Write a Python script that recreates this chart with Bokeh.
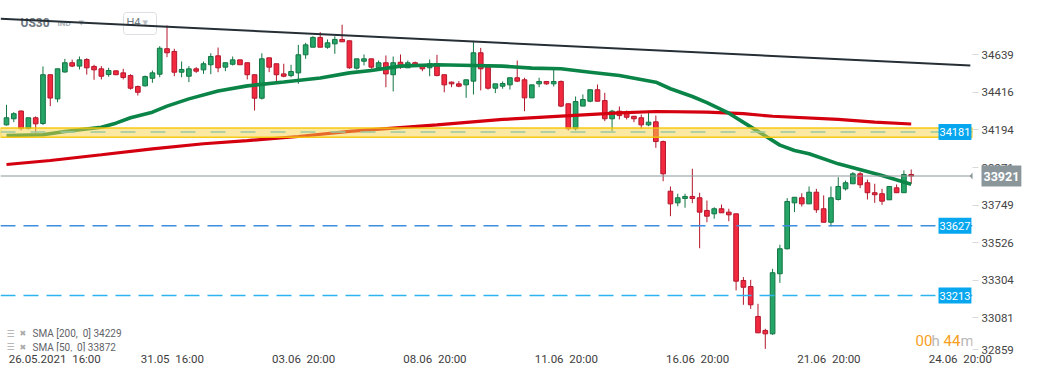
from bokeh.plotting import figure
from bokeh.models import (Range1d, LinearAxis, FixedTicker, Span, BoxAnnotation, Label,
                          PolyAnnotation, ColumnDataSource)
from bokeh.embed import file_html
from bokeh.resources import INLINE

# ---------------- data (US30, H4) ----------------
opens = [34224, 34260, 34306, 34202, 34266, 34232, 34521, 34378, 34537, 34592,
         34572, 34611, 34570, 34556, 34522, 34544, 34532, 34516, 34451, 34455,
         34500, 34524, 34675, 34659, 34536, 34512, 34556, 34550, 34580, 34633,
         34566, 34583, 34609, 34592, 34521, 34382, 34621, 34586, 34526, 34516,
         34532, 34639, 34684, 34742, 34684, 34704, 34730, 34722, 34560, 34601,
         34615, 34562, 34592, 34521, 34595, 34562, 34592, 34580, 34562, 34586,
         34521, 34477, 34467, 34461, 34483, 34651, 34566, 34441, 34453, 34461,
         34503, 34491, 34384, 34467, 34481, 34467, 34481, 34349, 34201, 34335,
         34364, 34432, 34368, 34260, 34305, 34295, 34275, 34266, 34224, 34242,
         34125, 33831, 33762, 33788, 33800, 33792, 33717, 33697, 33727, 33707,
         33697, 33302, 33266, 33089, 33006, 32986, 33342, 33490, 33762, 33792,
         33756, 33825, 33727, 33647, 33782, 33845, 33875, 33934, 33881, 33822,
         33816, 33780, 33851, 33822, 33930]
highs = [34343, 34299, 34309, 34266, 34274, 34570, 34522, 34556, 34615, 34611,
         34629, 34619, 34580, 34572, 34562, 34546, 34556, 34524, 34457, 34516,
         34546, 34690, 34813, 34675, 34599, 34572, 34566, 34599, 34648, 34682,
         34592, 34629, 34609, 34592, 34521, 34648, 34621, 34586, 34586, 34580,
         34698, 34710, 34749, 34773, 34730, 34749, 34817, 34722, 34615, 34641,
         34615, 34605, 34635, 34629, 34641, 34605, 34599, 34580, 34611, 34639,
         34521, 34481, 34483, 34491, 34722, 34680, 34566, 34467, 34481, 34503,
         34605, 34503, 34461, 34503, 34481, 34556, 34487, 34349, 34392, 34404,
         34432, 34463, 34414, 34313, 34333, 34309, 34275, 34285, 34309, 34279,
         34131, 33859, 33816, 33816, 33964, 33822, 33776, 33736, 33752, 33727,
         33697, 33322, 33306, 33164, 33016, 33371, 33514, 33790, 33795, 33819,
         33859, 33845, 33806, 33859, 33914, 33894, 33944, 33944, 33900, 33875,
         33845, 33859, 33871, 33954, 33960]
lows = [34220, 34240, 34191, 34197, 34173, 34223, 34335, 34358, 34534, 34566,
        34552, 34522, 34491, 34493, 34509, 34519, 34493, 34433, 34398, 34451,
        34473, 34506, 34625, 34512, 34506, 34477, 34532, 34526, 34524, 34536,
        34542, 34576, 34580, 34493, 34309, 34374, 34536, 34477, 34506, 34506,
        34467, 34615, 34684, 34684, 34675, 34645, 34716, 34556, 34552, 34576,
        34556, 34556, 34447, 34422, 34556, 34562, 34576, 34542, 34512, 34512,
        34417, 34447, 34447, 34384, 34404, 34428, 34433, 34412, 34438, 34433,
        34477, 34305, 34384, 34447, 34461, 34451, 34329, 34191, 34191, 34335,
        34358, 34364, 34246, 34186, 34256, 34256, 34240, 34201, 34216, 34088,
        33890, 33683, 33742, 33733, 33760, 33493, 33647, 33668, 33703, 33653,
        33243, 33158, 33134, 32992, 32897, 32980, 33288, 33486, 33707, 33740,
        33756, 33703, 33647, 33622, 33776, 33835, 33875, 33849, 33782, 33762,
        33750, 33780, 33822, 33822, 33875]
closes = [34266, 34290, 34202, 34266, 34230, 34521, 34383, 34556, 34592, 34572,
          34609, 34562, 34550, 34512, 34546, 34521, 34505, 34441, 34417, 34510,
          34532, 34678, 34651, 34536, 34552, 34556, 34542, 34586, 34629, 34562,
          34592, 34609, 34580, 34521, 34382, 34615, 34566, 34521, 34512, 34540,
          34639, 34698, 34742, 34684, 34710, 34730, 34716, 34562, 34615, 34615,
          34566, 34592, 34526, 34592, 34576, 34592, 34580, 34556, 34586, 34516,
          34461, 34467, 34453, 34491, 34651, 34556, 34441, 34467, 34469, 34503,
          34483, 34384, 34461, 34481, 34467, 34481, 34335, 34201, 34362, 34374,
          34432, 34364, 34260, 34305, 34279, 34269, 34260, 34224, 34240, 34125,
          33934, 33756, 33792, 33800, 33788, 33707, 33683, 33727, 33703, 33691,
          33298, 33262, 33158, 32992, 32986, 33348, 33490, 33770, 33795, 33756,
          33825, 33721, 33647, 33792, 33859, 33881, 33934, 33869, 33822, 33810,
          33772, 33859, 33822, 33930, 33921]

# moving averages (bar index -> value)
sma50_idx = [0, 5, 8, 13, 15, 17, 20, 22, 25, 29, 33, 38, 43, 47, 50, 54, 59, 64, 68, 72,
             76, 80, 84, 89, 91, 94, 96, 99, 102, 106, 108, 110, 114, 120, 124]
sma50_val = [34161, 34165, 34185, 34210, 34234, 34266, 34299, 34335, 34378, 34425, 34455,
             34478, 34502, 34532, 34546, 34572, 34580, 34576, 34572, 34560, 34556, 34536,
             34516, 34477, 34438, 34392, 34356, 34293, 34212, 34104, 34072, 34053, 33993,
             33924, 33872]
sma200_idx = [0, 6, 13, 20, 27, 33, 40, 47, 59, 68, 76, 84, 89, 96, 101, 105, 114, 119, 124]
sma200_val = [33989, 34013, 34047, 34082, 34112, 34131, 34155, 34185, 34224, 34256, 34276,
              34295, 34303, 34299, 34290, 34275, 34256, 34240, 34229]

# resistance trend line anchors (bar index, price)
trend_idx = [-0.8, 132.1]
trend_val = [34852, 34576]

zone_top, zone_bottom, zone_level = 34206, 34151, 34181
support_levels = [33627, 33213]
current_price = 33921

y_ticks = [32859, 33081, 33304, 33526, 33749, 33971, 34194, 34416, 34639]
x_tick_idx = [0, 18, 36, 54, 72, 90, 108, 126]
x_tick_labels = ["26.05.2021 \u00a016:00", "31.05 \u00a016:00", "03.06 \u00a020:00", "08.06 \u00a020:00",
                 "11.06 \u00a020:00", "16.06 \u00a020:00", "21.06 \u00a020:00", "24.06 \u00a020:00"]

# ---------------- layout ----------------
FRAME_W, FRAME_H = 972, 351
RIGHT_W, BOTTOM_H = 53, 13
X_START, X_END = -0.822, 132.4
Y_START, Y_END = 32881.4, 34960.7
IDX_PER_PX = (X_END - X_START) / FRAME_W
VAL_PER_PX = (Y_END - Y_START) / FRAME_H
FONT = "Roboto"

GREEN_FILL, GREEN_LINE = "#25a567", "#127543"
RED_FILL, RED_LINE = "#f2293f", "#b3172c"

p = figure(frame_width=FRAME_W, frame_height=FRAME_H,
           x_range=Range1d(X_START, X_END), y_range=Range1d(Y_START, Y_END),
           output_backend="svg", toolbar_location=None, x_axis_location=None, y_axis_location=None,
           min_border_left=0, min_border_top=0, min_border_right=RIGHT_W,
           min_border_bottom=BOTTOM_H)
p.xgrid.visible = False
p.ygrid.visible = False
p.outline_line_color = None
p.background_fill_color = "white"
p.border_fill_color = "white"

# axes
y_tick_pos = [max(t, Y_START + 2 * VAL_PER_PX) for t in y_ticks]
yax = LinearAxis(ticker=FixedTicker(ticks=y_tick_pos),
                 major_label_overrides={pos: str(t) for pos, t in zip(y_tick_pos, y_ticks)},
                 axis_line_color=None, major_tick_out=6, major_tick_in=0,
                 major_tick_line_color="#d9d9d9", minor_tick_line_color=None,
                 major_label_standoff=3, major_label_text_font=FONT,
                 major_label_text_font_size="11.5px", major_label_text_color="#444444")
p.add_layout(yax, "right")

CHAR_PX = 5.5
label_pos = [t + (1.5 + CHAR_PX * len(s) / 2) * IDX_PER_PX for t, s in zip(x_tick_idx, x_tick_labels)]
xax = LinearAxis(ticker=FixedTicker(ticks=label_pos),
                 major_label_overrides={pos: s for pos, s in zip(label_pos, x_tick_labels)},
                 axis_line_color=None, major_tick_out=0, major_tick_in=0,
                 major_tick_line_color=None, minor_tick_line_color=None,
                 major_label_standoff=0, major_label_text_font=FONT,
                 major_label_text_font_size="11.5px", major_label_text_color="#3d3d3d")
p.add_layout(xax, "below")

# screen-positioned texts (x from left, y from top of the chart area)
def scr(text, X, Y, **kw):
    kw.setdefault("text_font", FONT)
    kw.setdefault("text_baseline", "middle")
    return Label(x=X, y=FRAME_H - Y, x_units="screen", y_units="screen", text=text, **kw)

p.add_layout(scr("US30", 20, 22.5, text_font_size="12px", text_font_style="bold",
                 text_color="#6d777f", level="underlay"))
p.add_layout(scr("IND", 57, 23, text_font_size="8px", text_font_style="bold",
                 text_color="#aab1b7", level="underlay"))
p.add_layout(scr("\u25BC", 78, 22, text_font="DejaVu Sans", text_font_size="7px",
                 text_color="#b9c0c5", level="underlay"))
p.add_layout(scr("H4", 123, 23, text_font_size="11px", text_color="#6e7880",
                 background_fill_color="white", border_line_color="#dcdfe2",
                 padding=(3, 16, 3, 6), border_radius=3, level="underlay"))
p.add_layout(scr("\u25BC", 142, 22.5, text_font="DejaVu Sans", text_font_size="7px",
                 text_color="#b9c0c5", level="underlay"))

# candles
x = list(range(len(opens)))
up = [c >= o for o, c in zip(opens, closes)]
src = ColumnDataSource(dict(
    x=x, high=highs, low=lows,
    top=[max(o, c) for o, c in zip(opens, closes)],
    bottom=[min(o, c) for o, c in zip(opens, closes)],
    fill=[GREEN_FILL if u else RED_FILL for u in up],
    line=[GREEN_LINE if u else RED_LINE for u in up]))
p.segment(x0="x", y0="high", x1="x", y1="low", line_color="line", line_width=1, source=src)
p.vbar(x="x", width=0.64, top="top", bottom="bottom", fill_color="fill", line_color="line",
       line_width=1, source=src)

# moving averages and trend line
p.line(sma200_idx, sma200_val, line_color="#d4000f", line_width=3.2)
p.line(sma50_idx, sma50_val, line_color="#0b8448", line_width=3.6)
p.line(trend_idx, trend_val, line_color="#262f36", line_width=2)

# levels
p.add_layout(BoxAnnotation(top=zone_top, bottom=zone_bottom, fill_color="#f8d447", fill_alpha=0.5,
                           line_color="#f5c400", line_width=1.5, line_alpha=0.9))
p.add_layout(Span(location=zone_level, dimension="width", line_color="#9cc7a0",
                  line_width=1.5, line_dash="15 15"))
p.add_layout(Span(location=support_levels[0], dimension="width", line_color="#3d8ee0",
                  line_width=1.5, line_dash="15 8"))
p.add_layout(Span(location=support_levels[1], dimension="width", line_color="#2db3f0",
                  line_width=1.5, line_dash="15 8"))
p.add_layout(Span(location=current_price, dimension="width", line_color="#8b969b", line_width=1))

# price badges (placed in the right panel so they are not clipped by the chart area)
for lvl in [zone_level] + support_levels:
    p.add_layout(Label(x=X_END, y=lvl, x_offset=-34, text=str(lvl), text_align="left",
                       text_baseline="middle", text_color="white", text_font=FONT,
                       text_font_size="11px", background_fill_color="#07a7ef",
                       padding=(1, 4), level="overlay"), "right")

GREY = "#8b969b"
p.add_layout(PolyAnnotation(xs=[X_END - 3 * IDX_PER_PX, X_END + 4 * IDX_PER_PX, X_END + 4 * IDX_PER_PX],
                            ys=[current_price, current_price + 8 * VAL_PER_PX,
                                current_price - 8 * VAL_PER_PX],
                            fill_color=GREY, fill_alpha=1, line_color=None, level="overlay"), "right")
p.add_layout(Label(x=X_END, y=current_price, x_offset=9, text=str(current_price), text_align="left",
                   text_baseline="middle", text_color="white", text_font=FONT,
                   text_font_size="12.5px", text_font_style="bold", background_fill_color=GREY,
                   padding=(2, 6), level="overlay"), "right")

# legend of indicators
for row, (name, val) in enumerate([("SMA [200, \u00a00]", sma200_val[-1]),
                                   ("SMA [50, \u00a00]", sma50_val[-1])]):
    Y = 333 + 13.5 * row
    p.add_layout(scr("\u2630", 6, Y, text_font="DejaVu Sans", text_font_size="9px", text_color="#aaaaaa"))
    p.add_layout(scr("\u2716", 19, Y, text_font="DejaVu Sans", text_font_size="8px", text_color="#aaaaaa"))
    p.add_layout(scr(f"{name} {val}", 32, Y, text_font_size="10px", text_color="#5f6368"))

# countdown to bar close
for txt, X, col in [("00", 915, "#f7a01c"), ("h", 931, "#b8b8b8"), ("44", 943, "#f7a01c"), ("m", 960, "#b8b8b8")]:
    p.add_layout(scr(txt, X, 340, text_baseline="alphabetic", text_font_size="15px", text_color=col))

open("out.html", "w").write(file_html(p, INLINE))
